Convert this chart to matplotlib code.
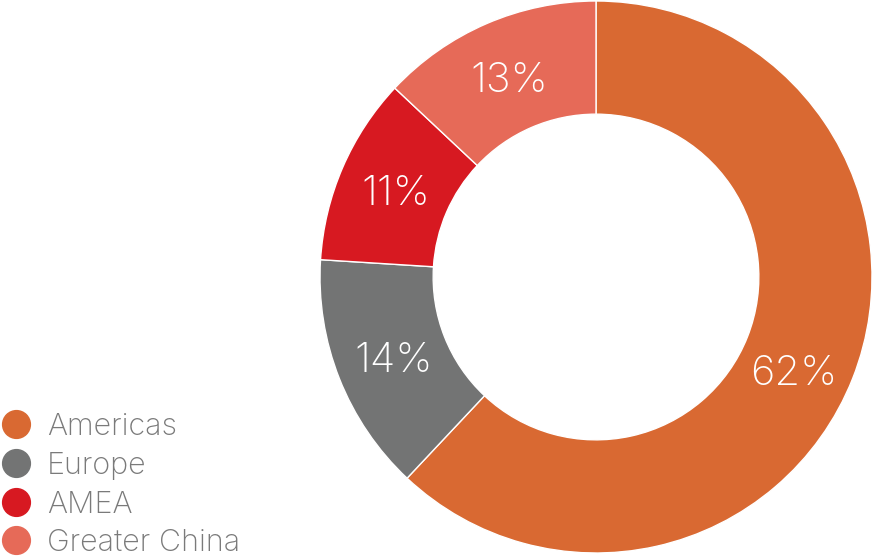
"""Revenue share by region, donut chart."""

import matplotlib

matplotlib.use("Agg")

import matplotlib.pyplot as plt
from matplotlib.lines import Line2D

regions = ["Americas", "Europe", "AMEA", "Greater China"]
shares = [62, 14, 11, 13]
colors = ["#D96932", "#737474", "#D71921", "#E66A58"]

plt.rcParams["font.family"] = ["Inter", "DejaVu Sans"]

fig = plt.figure(figsize=(8.73, 5.58), dpi=100)
ax = fig.add_axes([320 / 873, 5 / 558, 552 / 873, 552 / 558])

wedges, _, autotexts = ax.pie(
    shares,
    colors=colors,
    startangle=90,
    counterclock=False,
    radius=1.0,
    autopct="%d%%",
    pctdistance=0.79,
    wedgeprops={"width": 0.41, "edgecolor": "white", "linewidth": 1},
)
# radius 1.0 is 276 px; nudge labels a bit lower like the original
px = 1 / 276
for i, t in enumerate(autotexts):
    t.set_color("white")
    t.set_fontsize(30)
    t.set_fontweight("light")
    x, y = t.get_position()
    if i == 0:
        t.set_position((x - 5 * px, y - 17 * px))
    else:
        t.set_position((x, y - 4 * px))

ax.set_xlim(-1, 1)
ax.set_ylim(-1, 1)
ax.set_aspect("equal")
ax.axis("off")

# legend, drawn by hand so the rows sit where the original has them
row_y = [424, 463, 502, 540]
for name, c, y in zip(regions, colors, row_y):
    fy = 1 - y / 558
    fig.add_artist(Line2D([16 / 873], [fy], marker="o", markersize=20,
                          linestyle="none", markerfacecolor=c,
                          markeredgecolor=c, transform=fig.transFigure))
    fig.text(47 / 873, fy, name, fontsize=22, fontweight="light",
             color="#7A7A7A", va="center_baseline", ha="left")

fig.savefig("out.png", dpi=100)
